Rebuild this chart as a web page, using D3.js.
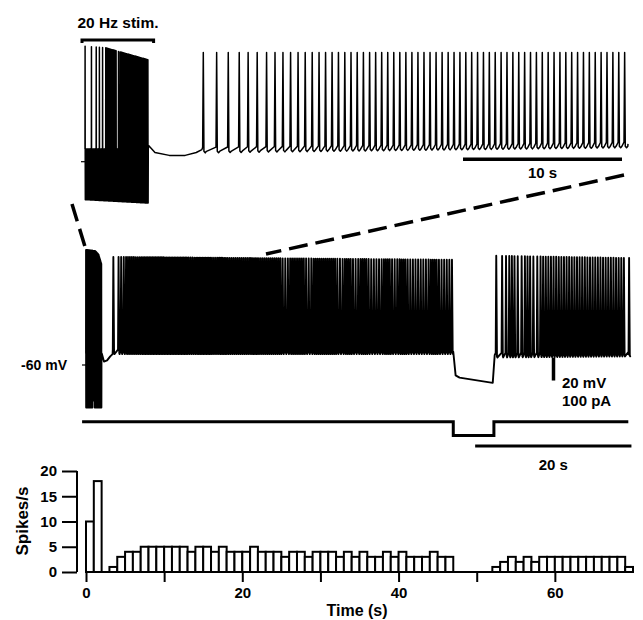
<!DOCTYPE html>
<html><head><meta charset="utf-8">
<script src="https://cdn.jsdelivr.net/npm/d3@7"></script>
<style>
body{margin:0;background:#fff}
text{font-family:"Liberation Sans",Arial,Helvetica,sans-serif;font-weight:bold;fill:#000}
</style>
</head><body>
<svg id="c" width="643" height="620"></svg>
<script>
// ---------------- DATA ----------------
// Spike histogram: spikes per 1-s bin, starting at 0 s
const binCounts = [10,18,0,1,3,4,4,5,5,5,5,5,5,4,5,5,4,5,4,4,4,5,4,4,4,3,4,4,3,4,4,4,3,
                   4,3,4,3,3,4,3,4,3,3,3,4,3,3,0,0,0,0,0,1,2,3,2,3,2,3,3,3,3,3,3,3,3,3,3,3,1];
const histXTicks = [0,10,20,30,40,50,60];
const histXLabels = ["0","","20","","40","","60"];
const histYTicks = [0,5,10,15,20];

// Middle trace (long recording, mV / s)
const stimHz = 20;
const midStim = [0, 2];                 // 20 Hz stimulation window (s)
const midStimPeakT = [0, 1.2, 1.6, 2];  // peak envelope during stim
const midStimPeakV = [40, 39, 36, 27];
const midArtifactV = -97;
const midRecovery = [[2.02,-50],[2.3,-57],[2.7,-56],[3.1,-52.5],[3.4,-50.5]];
const midPeakV = [34, 31.5, 35, 33];    // pre-hyper start/end, post-hyper start/end
const midTroughV = [-49.5, -49.5, -52.5, -51.5];
const midHyper = [47.0, 52.2];          // hyperpolarising step (s)
const midHyperV = [-70, -75.5];
const midEnd = 69.4;
const currentT = [-0.5, 47.0, 47.0, 52.2, 52.2, 69.4];
const currentI = [0, 0, -60, -60, 0, 0]; // pA

// Top trace (expanded view, mV / s)
const topStimDur = 4;                     // s
const topStimSpikePulses = [0, 8, 14, 18, 22]; // isolated spikes early in train
const topStimBlock = [[26,39],[42,42],[44,79]]; // pulses firing continuously
const topStimPeak = [40.5, 39, 28.5];
const topArtifactV = [-93, -96];
const topRecovery = [[4.0,-46],[4.4,-52],[5.3,-54.5],[6.3,-54.5],[7.0,-52],[7.35,-49.5]];
const topSpikeTimes = [7.44, 8.28, 9.01, 9.70, 10.26, 10.83, 11.42, 11.95, 12.45, 12.93, 13.40,
  13.85, 14.29, 14.72, 15.13, 15.54, 15.94, 16.34, 16.73, 17.12, 17.51, 17.90, 18.28, 18.66,
  19.04, 19.42, 19.80, 20.18, 20.56, 20.94, 21.32, 21.70, 22.08, 22.46, 22.84, 23.21, 23.58,
  23.95, 24.32, 24.69, 25.06, 25.43, 25.80, 26.17, 26.54, 26.91, 27.28, 27.65, 28.02, 28.39,
  28.76, 29.13, 29.50, 29.87, 30.24, 30.61, 30.98, 31.35, 31.72, 32.09, 32.46, 32.83, 33.20,
  33.57, 33.94];
const topPeakV = 35;
const topTroughV = [-51, -46.5];
const topEnd = 34.15;

// ---------------- SCALES ----------------
const svg = d3.select("#c");
const xMid = d3.scaleLinear().domain([0,70]).range([86,633]);
const yHist = d3.scaleLinear().domain([0,20]).range([572,471]);
const yMid = d3.scaleLinear().domain([-60,20]).range([365,273]);
const yCur = d3.scaleLinear().domain([0,-100]).range([421.7,444.7]);
const xTop = d3.scaleLinear().domain([0,10]).range([85,244]);
const yTop = d3.scaleLinear().domain([-60,20]).range([161.7,69.7]);

// ---------------- TOP TRACE ----------------
(function(){
  const pts = [];
  const nP = topStimDur*stimHz;
  const peakS = d3.scaleLinear().domain([0,1.3,topStimDur]).range(topStimPeak);
  const artS = d3.scaleLinear().domain([0,topStimDur]).range(topArtifactV);
  const fires = i => topStimSpikePulses.includes(i) || topStimBlock.some(b=>i>=b[0]&&i<=b[1]);
  const plateau = -49;
  for (let i=0;i<nP;i++){
    const t = i/stimHz;
    pts.push([t, plateau]);
    if (fires(i)) { pts.push([t+0.006, peakS(t)]); pts.push([t+0.012, plateau]); }
    pts.push([t+0.02, artS(t)]);
    pts.push([t+0.03, plateau]);
  }
  topRecovery.forEach(p=>pts.push(p));
  const tr = d3.scaleLinear().domain([topSpikeTimes[0], topEnd]).range(topTroughV);
  topSpikeTimes.forEach((ts,k)=>{
    const b = tr(ts);
    pts.push([ts-0.04, b+3.5]);
    pts.push([ts, topPeakV]);
    pts.push([ts+0.04, b]);
    pts.push([ts+0.12, b-1.3]);
    pts.push([ts+0.2, b]);
  });
  pts.push([topEnd, tr(topEnd)+2]);
  svg.append("path").attr("d", d3.line().x(d=>xTop(d[0])).y(d=>yTop(d[1]))(pts))
    .attr("fill","none").attr("stroke","#000").attr("stroke-width",1.5).attr("stroke-linejoin","round");
  // -60 mV tick
  svg.append("line").attr("x1",xTop(0)-4).attr("x2",xTop(0)).attr("y1",yTop(-60)).attr("y2",yTop(-60))
    .attr("stroke","#000").attr("stroke-width",1.2);
})();

// stim label + bar
svg.append("text").attr("x",118).attr("y",28).attr("text-anchor","middle")
  .style("font-size","15.5px").text("20 Hz stim.");
svg.append("path").attr("d",`M${xTop(0)-3},43V40H${xTop(topStimDur)+5}V43`)
  .attr("fill","none").attr("stroke","#000").attr("stroke-width",3);

// 10 s scale bar
svg.append("line").attr("x1",463).attr("x2",463+(xTop(10)-xTop(0))).attr("y1",159.3).attr("y2",159.3)
  .attr("stroke","#000").attr("stroke-width",3.5);
svg.append("text").attr("x",463+(xTop(10)-xTop(0))/2).attr("y",178).attr("text-anchor","middle")
  .style("font-size","15px").text("10 s");

// dashed zoom connectors
svg.append("line").attr("x1",72).attr("y1",204).attr("x2",86).attr("y2",250)
  .attr("stroke","#000").attr("stroke-width",3.5).attr("stroke-dasharray","18,8");
svg.append("line").attr("x1",624).attr("y1",175).attr("x2",266).attr("y2",254)
  .attr("stroke","#000").attr("stroke-width",3.5).attr("stroke-dasharray","19,8");

// ---------------- MIDDLE TRACE ----------------
(function(){
  const pts = [];
  const peakS = d3.scaleLinear().domain(midStimPeakT).range(midStimPeakV);
  const plateau = -50;
  const nP = (midStim[1]-midStim[0])*stimHz;
  for (let i=0;i<nP;i++){
    const t = midStim[0] + i/stimHz;
    pts.push([t, plateau]);
    pts.push([t+0.006, peakS(t)]);
    pts.push([t+0.012, plateau]);
    pts.push([t+0.02, midArtifactV + (i>16&&i<22?6:0)]);
    pts.push([t+0.03, plateau]);
  }
  midRecovery.forEach(p=>pts.push(p));
  // spike times from the histogram bins (excluding the stimulation bins)
  const spikes = [];
  binCounts.forEach((n,i)=>{
    if (i < midStim[1]) return;
    for (let k=0;k<n;k++) spikes.push(i + (k+0.5)/n);
  });
  const pre = spikes.filter(t=>t<midHyper[0]);
  const post = spikes.filter(t=>t>midHyper[1]);
  const pkPre = d3.scaleLinear().domain([pre[0], midHyper[0]]).range([midPeakV[0], midPeakV[1]]);
  const trPre = d3.scaleLinear().domain([pre[0], midHyper[0]]).range([midTroughV[0], midTroughV[1]]);
  const pkPost = d3.scaleLinear().domain([midHyper[1], midEnd]).range([midPeakV[2], midPeakV[3]]);
  const trPost = d3.scaleLinear().domain([midHyper[1], midEnd]).range([midTroughV[2], midTroughV[3]]);
  function addSpikes(list, pk, tr){
    list.forEach(ts=>{
      const b = tr(ts);
      pts.push([ts-0.07, b+3]);
      pts.push([ts, pk(ts)]);
      pts.push([ts+0.09, b]);
      pts.push([ts+0.14, b-1]);
    });
  }
  addSpikes(pre, pkPre, trPre);
  pts.push([midHyper[0], midTroughV[1]+1]);
  pts.push([midHyper[0]+0.3, midHyperV[0]+1]);
  pts.push([midHyper[0]+0.8, midHyperV[0]-1]);
  pts.push([midHyper[1]-0.15, midHyperV[1]]);
  pts.push([midHyper[1]+0.1, midTroughV[2]+1]);
  addSpikes(post, pkPost, trPost);
  pts.push([midEnd, trPost(midEnd)+2]);
  svg.append("path").attr("d", d3.line().x(d=>xMid(d[0])).y(d=>yMid(d[1]))(pts))
    .attr("fill","none").attr("stroke","#000").attr("stroke-width",1.9).attr("stroke-linejoin","round");
  // -60 mV tick + label
  svg.append("line").attr("x1",xMid(0)-4).attr("x2",xMid(0)).attr("y1",yMid(-60)).attr("y2",yMid(-60))
    .attr("stroke","#000").attr("stroke-width",1.2);
  svg.append("text").attr("x",67).attr("y",yMid(-60)+5).attr("text-anchor","end")
    .style("font-size","14px").text("-60 mV");
})();

// current trace
svg.append("path")
  .attr("d", d3.line().x(d=>xMid(d[0])).y(d=>yCur(d[1]))(currentT.map((t,i)=>[t,currentI[i]])))
  .attr("fill","none").attr("stroke","#000").attr("stroke-width",3);

// 20 mV / 100 pA scale bar
svg.append("line").attr("x1",553.5).attr("x2",553.5).attr("y1",yMid(-73.5)).attr("y2",yMid(-73.5)-(yMid(0)-yMid(20)))
  .attr("stroke","#000").attr("stroke-width",3.5);
svg.append("text").attr("x",562).attr("y",388).style("font-size","15px").text("20 mV");
svg.append("text").attr("x",562).attr("y",406).style("font-size","15px").text("100 pA");

// 20 s scale bar
svg.append("line").attr("x1",xMid(49.8)).attr("x2",xMid(69.8)).attr("y1",446).attr("y2",446)
  .attr("stroke","#000").attr("stroke-width",3);
svg.append("text").attr("x",xMid(59.8)).attr("y",470).attr("text-anchor","middle")
  .style("font-size","15px").text("20 s");

// ---------------- HISTOGRAM ----------------
const g = svg.append("g");
g.selectAll("rect.bar").data(binCounts.map((n,i)=>({i,n})).filter(d=>d.n>0))
  .enter().append("rect").attr("class","bar")
  .attr("x",d=>xMid(d.i)).attr("width",xMid(1)-xMid(0))
  .attr("y",d=>yHist(d.n)).attr("height",d=>yHist(0)-yHist(d.n))
  .attr("fill","#fff").attr("stroke","#000").attr("stroke-width",2);

const xAxis = d3.axisBottom(xMid).tickValues(histXTicks).tickSize(10).tickPadding(5)
  .tickFormat((d,i)=>histXLabels[i]);
const gx = svg.append("g").attr("transform","translate(0,572)").call(xAxis);
gx.select(".domain").attr("d",`M${xMid(0)},0H${xMid(70)}`).attr("stroke-width",2);
gx.selectAll(".tick line").attr("stroke-width",2);
gx.selectAll("text").style("font-size","15px").style("font-family",null).attr("fill","#000");

const yAxis = d3.axisLeft(yHist).tickValues(histYTicks).tickSize(15).tickPadding(5);
const gy = svg.append("g").attr("transform","translate(77,0)").call(yAxis);
gy.select(".domain").attr("d",`M0,${yHist(20)}V${yHist(0)}`).attr("stroke-width",2);
gy.selectAll(".tick line").attr("stroke-width",2);
gy.selectAll("text").style("font-size","15px").style("font-family",null).attr("fill","#000");

svg.append("text").attr("transform","translate(28,521) rotate(-90)").attr("text-anchor","middle")
  .style("font-size","17px").text("Spikes/s");
svg.append("text").attr("x",357).attr("y",616).attr("text-anchor","middle")
  .style("font-size","16px").text("Time (s)");
</script>
</body></html>
